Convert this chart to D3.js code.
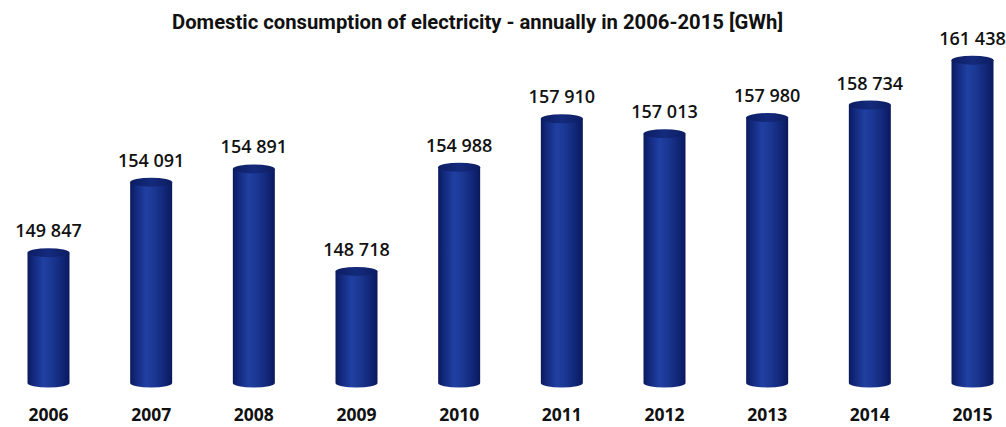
<!DOCTYPE html>
<html><head><meta charset="utf-8">
<script src="https://cdn.jsdelivr.net/npm/d3@7"></script>
<style>body{margin:0;background:#fff}svg{display:block}</style>
</head><body>
<svg id="c" width="1006" height="427"></svg>
<script>
const years = ["2006","2007","2008","2009","2010","2011","2012","2013","2014","2015"];
const values = [149847,154091,154891,148718,154988,157910,157013,157980,158734,161438];
const valueLabels = ["149 847","154 091","154 891","148 718","154 988","157 910","157 013","157 980","158 734","161 438"];
const title = "Domestic consumption of electricity - annually in 2006-2015 [GWh]";

const svg = d3.select("#c");
const x = d3.scalePoint().domain(years).range([48.5, 972.5]);
const y = d3.scaleLinear().domain([142000, 162000]).range([383, 50.8]);
const bw = 42, ry = 4.5;

const defs = svg.append("defs");
const g1 = defs.append("linearGradient").attr("id","body").attr("x1","0").attr("x2","1").attr("y1","0").attr("y2","0");
[["0%","#0b1a5c"],["12%","#12277a"],["38%","#2040a2"],["60%","#1a3690"],["88%","#0f2270"],["100%","#0a195a"]].forEach(([o,c])=>g1.append("stop").attr("offset",o).attr("stop-color",c));
const g2 = defs.append("linearGradient").attr("id","top").attr("x1","0").attr("x2","1").attr("y1","0").attr("y2","0");
[["0%","#0c1d62"],["50%","#142a7c"],["100%","#0c1d62"]].forEach(([o,c])=>g2.append("stop").attr("offset",o).attr("stop-color",c));

svg.append("text").attr("x",477.5).attr("y",29).attr("text-anchor","middle")
  .attr("font-family","Roboto").attr("font-weight",700).attr("font-size",20)
  .attr("textLength",611).attr("lengthAdjust","spacingAndGlyphs").attr("fill","#111").text(title);

const bars = svg.selectAll("g.bar").data(years).join("g").attr("class","bar");
bars.append("path").attr("fill","url(#body)").attr("d",(d,i)=>{
  const cx = x(d), t = y(values[i]), b = y.range()[0];
  return `M${cx-bw/2},${t} L${cx-bw/2},${b} A${bw/2},${ry} 0 0 0 ${cx+bw/2},${b} L${cx+bw/2},${t} Z`;
});
bars.append("ellipse").attr("cx",d=>x(d)).attr("cy",(d,i)=>y(values[i])).attr("rx",bw/2).attr("ry",ry).attr("fill","url(#top)");
bars.append("text").attr("x",d=>x(d)).attr("y",(d,i)=>y(values[i])-ry-11)
  .attr("text-anchor","middle").attr("font-family","Open Sans").attr("font-weight",600).attr("font-size",18)
  .attr("fill","#111").text((d,i)=>valueLabels[i]);
bars.append("text").attr("x",d=>x(d)).attr("y",421)
  .attr("text-anchor","middle").attr("font-family","Open Sans").attr("font-weight",700).attr("font-size",17.5)
  .attr("fill","#111").text(d=>d);
</script>
</body></html>
